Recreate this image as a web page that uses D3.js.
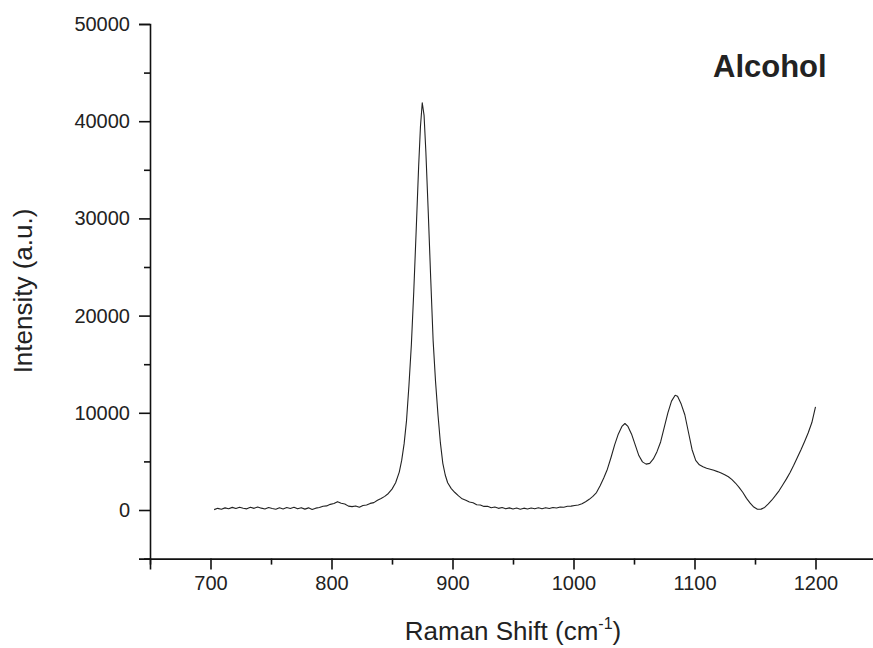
<!DOCTYPE html>
<html>
<head>
<meta charset="utf-8">
<script src="https://cdn.jsdelivr.net/npm/d3@7"></script>
<style>
    body { margin: 0; background: #fff; }
    text { font-family: "Liberation Sans", Arial, sans-serif; fill: #222; }
</style>
</head>
<body>
<div id="chart"></div>
<script>
// Raman spectrum
var ramanShift = [703, 706, 709, 712, 715, 718, 721, 724, 727, 730, 733, 736, 739, 742, 745, 748,
    751, 754, 757, 760, 763, 766, 769, 772, 775, 778, 781, 784, 787, 790, 793, 796, 799, 802,
    805, 808, 811, 814, 817, 820, 823, 826, 829, 832, 835, 838, 841, 844, 847, 850, 853, 856,
    858, 860, 862, 864, 866, 868, 870, 872, 873.5, 875, 876.5, 878, 880, 882, 884, 886, 888,
    890, 892, 894, 896, 899, 902, 905, 908, 911, 914, 917, 920, 923, 926, 929, 932, 935, 938,
    941, 944, 947, 950, 953, 956, 959, 962, 965, 968, 971, 974, 977, 980, 983, 986, 989, 992,
    995, 998, 1001, 1004, 1007, 1010, 1013, 1016, 1019, 1022, 1025, 1028, 1031, 1034, 1037,
    1040, 1042.5, 1045, 1048, 1051, 1054, 1057, 1060, 1063, 1066, 1069, 1072, 1075, 1078, 1081,
    1084, 1086, 1089, 1092, 1095, 1098, 1101, 1104, 1107, 1110, 1113, 1116, 1119, 1122, 1125,
    1128, 1131, 1134, 1137, 1140, 1143, 1146, 1149, 1152, 1155, 1158, 1161, 1164, 1167, 1170,
    1173, 1176, 1179, 1182, 1185, 1188, 1191, 1194, 1197, 1200];
var intensity = [40, 170, 80, 220, 130, 270, 150, 290, 180, 120, 280, 170, 310, 190, 110, 260,
    160, 70, 230, 110, 250, 150, 280, 120, 240, 90, 220, 60, 190, 250, 390, 420, 580, 660,
    860, 700, 620, 400, 350, 420, 280, 470, 520, 680, 760, 1000, 1180, 1400, 1700, 2150, 2800, 3900,
    5100, 6800, 9200, 12800, 17000, 22500, 28800, 35300, 39400, 41900, 40600, 36800, 30500, 23800, 17400, 13200, 9800,
    6900, 4800, 3600, 2800, 2200, 1800, 1450, 1150, 1000, 820, 740, 540, 520, 370, 380, 230, 310, 170,
    250, 120, 220, 100, 200, 80, 190, 100, 210, 120, 230, 130, 240, 150, 260, 200, 310, 290,
    390, 400, 470, 520, 650, 850, 1100, 1400, 1800, 2500, 3300, 4200, 5400, 6700, 7800,
    8600, 8900, 8600, 7800, 6700, 5600, 4950, 4720, 4800, 5250, 6000, 7000, 8500, 10000, 11200,
    11800, 11700, 10900, 9800, 8000, 6200, 5100, 4650, 4450, 4300, 4200, 4080, 3950, 3800, 3620,
    3420, 3120, 2750, 2300, 1800, 1200, 700, 300, 80, 90, 260, 620, 1030, 1500, 2000,
    2600, 3200, 3850, 4600, 5400, 6200, 7050, 7950, 9000, 10600];

var xMajor = [700, 800, 900, 1000, 1100, 1200];
var xMinor = [650, 750, 850, 950, 1050, 1150, 1250];
var yMajor = [0, 10000, 20000, 30000, 40000, 50000];
var yMinor = [-5000, 5000, 15000, 25000, 35000, 45000];

var chartTitle = "Alcohol";

var width = 873, height = 648;

var svg = d3.select("#chart").append("svg")
    .attr("width", width)
    .attr("height", height);

var x = d3.scaleLinear().domain([650, 1250]).range([150, 876]);
var y = d3.scaleLinear().domain([-5000, 50000]).range([558.6, 24]);

// bottom axis
svg.append("g")
    .attr("transform", "translate(0," + y(-5000) + ")")
    .call(d3.axisBottom(x).tickValues(xMajor).tickSize(11).tickPadding(6).tickFormat(d3.format("d")));
svg.append("g")
    .attr("transform", "translate(0," + y(-5000) + ")")
    .call(d3.axisBottom(x).tickValues(xMinor).tickSize(6).tickFormat(""))
    .select(".domain").remove();

// left axis
svg.append("g")
    .attr("transform", "translate(" + x(650) + ",0)")
    .call(d3.axisLeft(y).tickValues(yMajor).tickSize(11).tickPadding(9).tickFormat(d3.format("d")));
svg.append("g")
    .attr("transform", "translate(" + x(650) + ",0)")
    .call(d3.axisLeft(y).tickValues(yMinor).tickSize(6).tickFormat(""))
    .select(".domain").remove();

svg.selectAll(".domain").attr("stroke", "#111").attr("stroke-width", 1.6);
svg.selectAll(".tick line").attr("stroke", "#111").attr("stroke-width", 1.6);
svg.selectAll(".tick text")
    .style("font-family", "'Liberation Sans', Arial, sans-serif")
    .style("font-size", "20px")
    .attr("fill", "#222");

// spectrum
var points = ramanShift.map((d, i) => [d, intensity[i]]);
var line = d3.line()
    .x(d => x(d[0]))
    .y(d => y(d[1]));

svg.append("path")
    .datum(points)
    .attr("fill", "none")
    .attr("stroke", "#222")
    .attr("stroke-width", 1.1)
    .attr("stroke-linejoin", "round")
    .attr("d", line);

// axis titles
var xTitle = svg.append("text")
    .attr("x", 513)
    .attr("y", 640)
    .attr("text-anchor", "middle")
    .style("font-size", "26px");
xTitle.append("tspan").text("Raman Shift (cm");
xTitle.append("tspan").text("-1").style("font-size", "16px").attr("dy", -11);
xTitle.append("tspan").text(")").attr("dy", 11);

svg.append("text")
    .attr("transform", "translate(32,291) rotate(-90)")
    .attr("text-anchor", "middle")
    .style("font-size", "26px")
    .text("Intensity (a.u.)");

svg.append("text")
    .attr("x", 713)
    .attr("y", 77)
    .style("font-size", "31px")
    .style("font-weight", "bold")
    .attr("fill", "#111")
    .text(chartTitle);
</script>
</body>
</html>
